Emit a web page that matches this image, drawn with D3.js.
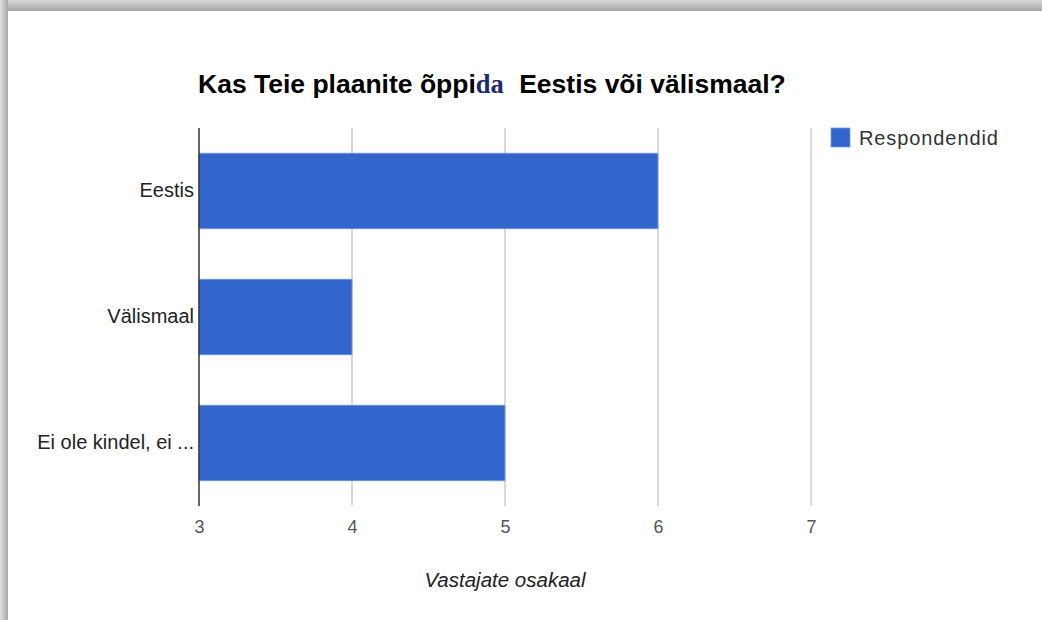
<!DOCTYPE html>
<html>
<head>
<meta charset="utf-8">
<script src="https://cdn.jsdelivr.net/npm/d3@7"></script>
<style>
  body { margin: 0; background: #fff; }
  svg { display: block; font-family: "Liberation Sans", Arial, sans-serif; }
</style>
</head>
<body>
<script>
// chart data
const categories = ["Eestis", "Välismaal", "Ei ole kindel, ei ..."];
const values = [6, 4, 5];
const ticks = [3, 4, 5, 6, 7];
const seriesName = "Respondendid";

const width = 1042, height = 620;
const margin = { top: 128, left: 199, right: 232, bottom: 114 };

const svg = d3.select("body").append("svg")
    .attr("width", width)
    .attr("height", height);

// shadow frame round the chart card
const defs = svg.append("defs");
const gTop = defs.append("linearGradient").attr("id", "shTop")
    .attr("x1", 0).attr("y1", 0).attr("x2", 0).attr("y2", 1);
gTop.append("stop").attr("offset", "0%").attr("stop-color", "#d8d8d8");
gTop.append("stop").attr("offset", "100%").attr("stop-color", "#a6a6a6");
const gLeft = defs.append("linearGradient").attr("id", "shLeft")
    .attr("x1", 0).attr("y1", 0).attr("x2", 1).attr("y2", 0);
gLeft.append("stop").attr("offset", "0%").attr("stop-color", "#e0e0e0");
gLeft.append("stop").attr("offset", "100%").attr("stop-color", "#a6a6a6");

svg.append("rect").attr("x", 0).attr("y", 0).attr("width", width).attr("height", 11)
    .attr("fill", "url(#shTop)");
svg.append("rect").attr("x", 0).attr("y", 0).attr("width", 8).attr("height", height)
    .attr("fill", "url(#shLeft)");
svg.append("rect").attr("x", 8).attr("y", 11).attr("width", width - 8).attr("height", height - 11)
    .attr("fill", "#fff");

const x = d3.scaleLinear()
    .domain([3, 7])
    .range([margin.left, width - margin.right + 1]);

const y = d3.scaleBand()
    .domain(categories)
    .range([margin.top, height - margin.bottom])
    .paddingInner(0.4)
    .paddingOuter(0.2);

// title
const title = svg.append("text")
    .attr("x", 198)
    .attr("y", 93)
    .attr("font-size", 26.5)
    .attr("font-weight", "bold")
    .attr("fill", "#000");
title.append("tspan").text("Kas Teie plaanite õppi");
title.append("tspan").attr("font-family", "Liberation Serif, serif").attr("fill", "#1a2a6a").text("da");
title.append("tspan").attr("dx", 8).text(" Eestis või välismaal?");

// gridlines
svg.append("g")
    .selectAll("line")
    .data(ticks.slice(1))
    .enter()
    .append("line")
    .attr("x1", d => x(d))
    .attr("x2", d => x(d))
    .attr("y1", margin.top)
    .attr("y2", height - margin.bottom)
    .attr("stroke", "#cccccc")
    .attr("stroke-width", 1.5);

// bars
svg.append("g")
    .selectAll("rect")
    .data(values)
    .enter()
    .append("rect")
    .attr("x", x(3))
    .attr("y", (d, i) => y(categories[i]))
    .attr("width", d => x(d) - x(3))
    .attr("height", y.bandwidth())
    .attr("fill", "#3366cc")
    .attr("stroke", "#7c9ddd")
    .attr("stroke-width", 0.8);

// baseline
svg.append("line")
    .attr("x1", x(3)).attr("x2", x(3))
    .attr("y1", margin.top).attr("y2", height - margin.bottom)
    .attr("stroke", "#333")
    .attr("stroke-width", 1.5);

// x axis labels
const xAxis = d3.axisBottom(x).tickValues(ticks).tickFormat(d3.format("d")).tickSize(0).tickPadding(14);
const gx = svg.append("g")
    .attr("transform", `translate(0,${height - margin.bottom})`)
    .call(xAxis);
gx.select(".domain").remove();
gx.selectAll("text")
    .attr("font-size", 18)
    .attr("font-family", "Liberation Sans, Arial, sans-serif")
    .attr("fill", "#555");

// y axis labels
const yAxis = d3.axisLeft(y).tickSize(0).tickPadding(5);
const gy = svg.append("g")
    .attr("transform", `translate(${margin.left},0)`)
    .call(yAxis);
gy.select(".domain").remove();
gy.selectAll("text")
    .attr("font-size", 20)
    .attr("font-family", "Liberation Sans, Arial, sans-serif")
    .attr("fill", "#222");

// axis title
svg.append("text")
    .attr("x", (x(3) + x(7)) / 2)
    .attr("y", 587)
    .attr("text-anchor", "middle")
    .attr("font-size", 20.5)
    .attr("font-style", "italic")
    .attr("fill", "#222")
    .text("Vastajate osakaal");

// legend
const legend = svg.append("g").attr("transform", "translate(831,128)");
legend.append("rect")
    .attr("width", 19).attr("height", 19)
    .attr("fill", "#3366cc")
    .attr("stroke", "#7c9ddd")
    .attr("stroke-width", 0.8);
legend.append("text")
    .attr("x", 28)
    .attr("y", 17)
    .attr("font-size", 20)
    .attr("letter-spacing", 0.9)
    .attr("fill", "#333")
    .text(seriesName);
</script>
</body>
</html>
